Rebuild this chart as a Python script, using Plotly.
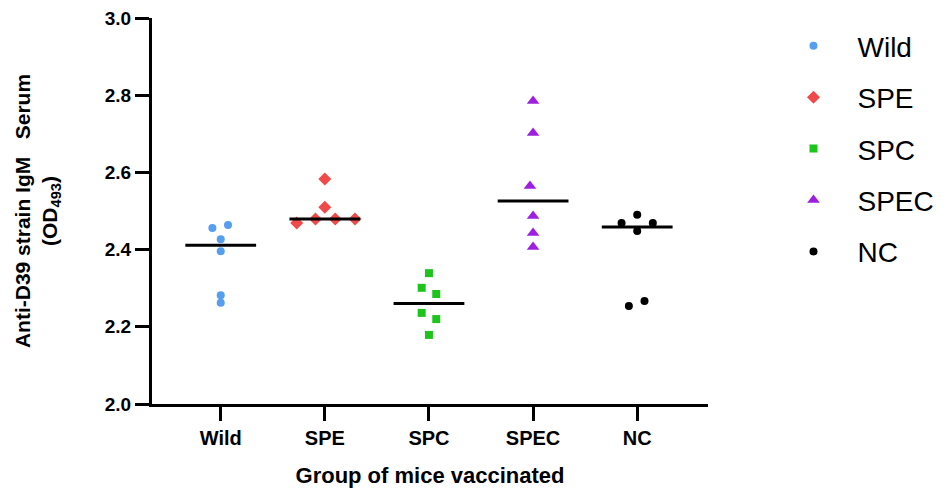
import plotly.graph_objects as go
import numpy as np

groups = ["Wild", "SPE", "SPC", "SPEC", "NC"]
wild = [2.456, 2.464, 2.427, 2.396, 2.282, 2.262]
spe = [2.583, 2.510, 2.469, 2.479, 2.479, 2.479]
spc = [2.339, 2.301, 2.285, 2.236, 2.220, 2.179]
spec = [2.785, 2.702, 2.565, 2.487, 2.443, 2.407]
nc = [2.490, 2.469, 2.469, 2.448, 2.254, 2.267]
values = [wild, spe, spc, spec, nc]

# horizontal scatter offsets (category units)
jitter = [
    [-0.08, 0.07, 0.0, 0.0, 0.0, 0.0],
    [0.0, 0.0, -0.27, -0.09, 0.10, 0.29],
    [0.0, -0.07, 0.07, -0.07, 0.07, 0.0],
    [0.0, 0.0, -0.03, 0.0, 0.0, 0.0],
    [0.0, -0.15, 0.15, 0.0, -0.08, 0.07],
]
colors = ["#559ef0", "#f04a4a", "#1cc41c", "#9f1fe0", "#000000"]
symbols = ["circle", "diamond", "square", "triangle-up", "circle"]
sizes = [8, 10, 8, 11, 8]
yticks = [2.0, 2.2, 2.4, 2.6, 2.8, 3.0]

FONT = "Liberation Sans, Arial, sans-serif"
fig = go.Figure()

for i, g in enumerate(groups):
    xs = [i + j for j in jitter[i]]
    fig.add_trace(go.Scatter(
        x=xs, y=values[i], mode="markers", name=g,
        legendgroup=g,
        marker=dict(color=colors[i], symbol=symbols[i], size=sizes[i], line=dict(width=0)),
    ))

for i, g in enumerate(groups):
    med = float(np.median(values[i]))
    fig.add_trace(go.Scatter(
        x=[i - 0.34, i + 0.34], y=[med, med], mode="lines",
        line=dict(color="black", width=3), showlegend=False, hoverinfo="skip",
    ))

fig.update_layout(
    width=946, height=490,
    margin=dict(l=152, r=238, t=18, b=86, autoexpand=False),
    paper_bgcolor="white", plot_bgcolor="white",
    font=dict(family=FONT, color="black"),
    showlegend=True,
    legend=dict(
        x=1.1106, xanchor="left", y=0.992, yanchor="top",
        font=dict(size=28, family=FONT, color="black"),
        tracegroupgap=12, itemwidth=78,
        bgcolor="rgba(0,0,0,0)",
    ),
)

fig.update_xaxes(
    range=[-0.66, 4.68], automargin=False,
    tickmode="array", tickvals=list(range(len(groups))), ticktext=groups,
    showline=True, linecolor="black", linewidth=3,
    ticks="outside", ticklen=14, tickwidth=3, tickcolor="black",
    tickfont=dict(size=20, family=FONT, color="black", weight="bold"),
    showgrid=False, zeroline=False,
    title=dict(text="<b>Group of mice vaccinated</b>", font=dict(size=22, family=FONT, color="black"), standoff=20),
)
fig.update_yaxes(
    range=[2.0, 3.0], automargin=False,
    tickmode="array", tickvals=yticks, ticktext=[f"{v:.1f}" for v in yticks],
    showline=True, linecolor="black", linewidth=3,
    ticks="outside", ticklen=14, tickwidth=3, tickcolor="black",
    tickfont=dict(size=19, family=FONT, color="black", weight="bold"),
    showgrid=False, zeroline=False,
    title=dict(text="<b>Anti-D39 strain IgM&nbsp;&nbsp; Serum<br>(OD<sub>493</sub>)</b>", font=dict(size=21, family=FONT, color="black"), standoff=42),
)

fig.write_html("out.html")
